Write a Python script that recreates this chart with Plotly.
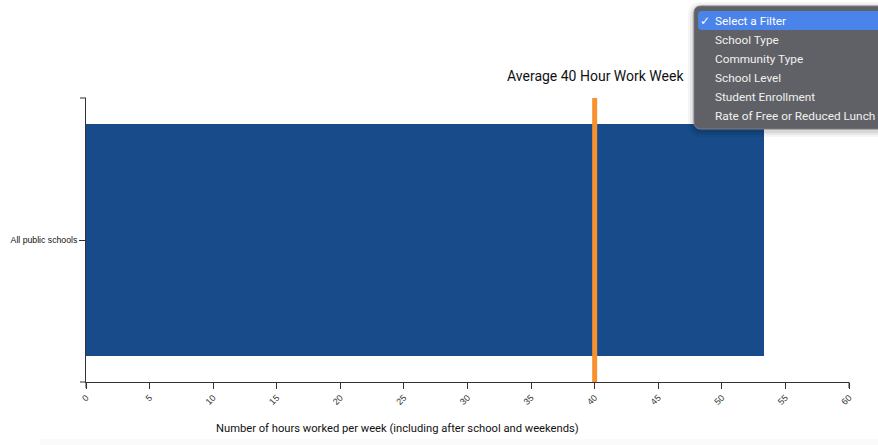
import plotly.graph_objects as go

# Chart data
categories = ["All public schools"]
hours_per_week = [53.3]
reference_hours = 40
x_ticks = list(range(0, 61, 5))
filter_options = ["Select a Filter", "School Type", "Community Type",
                  "School Level", "Student Enrollment", "Rate of Free or Reduced Lunch"]

W, H = 878, 445
L, R, T, B = 86, 29, 98, 63
PW, PH = W - L - R, H - T - B


def px(x):
    return (x - L) / PW


def py(y):
    return (H - B - y) / PH


BAR = "#174b89"
ORANGE = "#f7922e"
AXIS = "#333333"

fig = go.Figure()
fig.add_trace(go.Bar(
    x=hours_per_week, y=categories, orientation="h",
    width=0.82, marker=dict(color=BAR, line=dict(width=0)),
    hoverinfo="x+y",
))

shapes = []
# 40-hour reference line
shapes.append(dict(type="line", xref="x", yref="paper", x0=reference_hours, x1=reference_hours,
                   y0=0, y1=1, line=dict(color=ORANGE, width=5), layer="above"))
# outer end ticks of the axis domains
shapes.append(dict(type="line", xref="paper", yref="paper", x0=px(80), x1=0, y0=1, y1=1,
                   line=dict(color=AXIS, width=1)))
shapes.append(dict(type="line", xref="paper", yref="paper", x0=px(80), x1=0, y0=0, y1=0,
                   line=dict(color=AXIS, width=1)))
shapes.append(dict(type="line", xref="paper", yref="paper", x0=0, x1=0, y0=0, y1=py(388),
                   line=dict(color=AXIS, width=1)))
shapes.append(dict(type="line", xref="paper", yref="paper", x0=1, x1=1, y0=0, y1=py(388),
                   line=dict(color=AXIS, width=1)))

# faint band along the bottom of the page
shapes.append(dict(type="rect", xref="paper", yref="paper", x0=px(40), x1=px(880),
                   y0=py(446), y1=py(439), fillcolor="#fafafa", line=dict(width=0), layer="below"))


def rounded(x0, y0, x1, y1, r):
    X0, X1 = px(x0), px(x1)
    Y0, Y1 = py(y0), py(y1)
    rx, ry = r / PW, r / PH
    return (f"M{X0 + rx},{Y0} L{X1 - rx},{Y0} Q{X1},{Y0} {X1},{Y0 - ry} "
            f"L{X1},{Y1 + ry} Q{X1},{Y1} {X1 - rx},{Y1} L{X0 + rx},{Y1} "
            f"Q{X0},{Y1} {X0},{Y1 + ry} L{X0},{Y0 - ry} Q{X0},{Y0} {X0 + rx},{Y0} Z")


# open filter menu: soft shadow, panel, highlighted row
for i, a in enumerate([0.04, 0.05, 0.07]):
    g = 6 - 2 * i
    shapes.append(dict(type="path", xref="paper", yref="paper",
                       path=rounded(694 - g, 6 - g + 2, 890, 129 + g + 2, 8 + g),
                       fillcolor=f"rgba(0,0,0,{a})", line=dict(width=0)))
shapes.append(dict(type="path", xref="paper", yref="paper", path=rounded(694, 6, 890, 129, 7),
                   fillcolor="#606166", line=dict(color="#7a7b80", width=1)))
shapes.append(dict(type="path", xref="paper", yref="paper", path=rounded(698, 11, 890, 30, 4),
                   fillcolor="#4a84ea", line=dict(width=0)))

annotations = [
    dict(text="Average 40 Hour Work Week", xref="paper", yref="paper", x=px(595), y=py(76),
         xanchor="center", yanchor="middle", showarrow=False,
         font=dict(family="Roboto", size=14, color="#111111")),
    dict(text="Number of hours worked per week (including after school and weekends)",
         xref="paper", yref="paper", x=px(397), y=py(428), xanchor="center", yanchor="middle",
         showarrow=False, font=dict(family="Roboto", size=11.2, color="#111111")),
    dict(text="✓", xref="paper", yref="paper", x=px(698), y=py(21), xanchor="left",
         yanchor="middle", showarrow=False, font=dict(family="DejaVu Sans", size=12, color="white")),
]
for i, opt in enumerate(filter_options):
    annotations.append(dict(text=opt, xref="paper", yref="paper", x=px(713), y=py(21 + 19 * i),
                            xanchor="left", yanchor="middle", showarrow=False,
                            font=dict(family="Roboto", size=11.8,
                                      color="white" if i == 0 else "#f0f0f0")))

fig.update_layout(
    width=W, height=H,
    margin=dict(l=L, r=R, t=T, b=B),
    paper_bgcolor="white", plot_bgcolor="white",
    showlegend=False, bargap=0,
    shapes=shapes, annotations=annotations,
    font=dict(family="Liberation Sans", color="#222222"),
    xaxis=dict(range=[0, 60], tickvals=x_ticks, ticktext=[str(v) for v in x_ticks],
               tickangle=-45, ticks="outside", ticklen=6, tickcolor=AXIS,
               showline=True, linecolor=AXIS, linewidth=1, showgrid=False, zeroline=False,
               tickfont=dict(size=9, color="#333333"), fixedrange=True),
    yaxis=dict(range=[-0.5, 0.5], ticks="outside", ticklen=6, tickcolor=AXIS,
               showline=True, linecolor=AXIS, linewidth=1, showgrid=False, zeroline=False,
               tickfont=dict(size=8.7, color="#111111"), fixedrange=True),
)

fig.write_html("out.html")
